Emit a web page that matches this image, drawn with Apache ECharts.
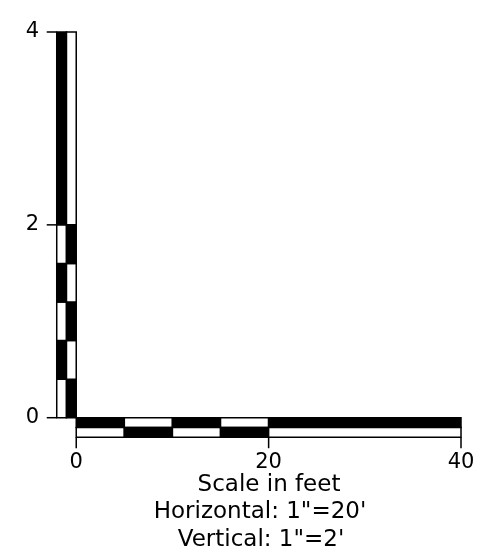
<!DOCTYPE html>
<html><head><meta charset="utf-8">
<script src="https://cdn.jsdelivr.net/npm/echarts@6/dist/echarts.min.js"></script>
<style>html,body{margin:0;padding:0;background:#fff}#c{width:485px;height:553px}</style>
</head><body><div id="c"></div>
<script>
// Vertical scale (feet): segment boundaries and which half is dark
const verticalBreaks = [0, 0.4, 0.8, 1.2, 1.6, 2, 4];
const leftColumnDark = [0, 1, 0, 1, 0, 1];
// Horizontal scale (feet)
const horizontalBreaks = [0, 5, 10, 15, 20, 40];
const topRowDark = [1, 0, 1, 0, 1];
// Tick labels
const xTickValues = [0, 20, 40];
const yTickValues = [0, 2, 4];
const captionLines = ['Scale in feet', 'Horizontal: 1"=20\'', 'Vertical: 1"=2\''];

const segments = [];
for (let i = 0; i < leftColumnDark.length; i++) {
  segments.push([0, verticalBreaks[i], verticalBreaks[i + 1], leftColumnDark[i]]);
}
for (let i = 0; i < topRowDark.length; i++) {
  segments.push([1, horizontalBreaks[i], horizontalBreaks[i + 1], topRowDark[i]]);
}
const tickData = yTickValues.map(v => [0, v]).concat(xTickValues.map(v => [1, v]));

const T = 19.5; // bar thickness in px
const FONT = 'DejaVu Sans';

function renderItem(params, api) {
  const orient = api.value(0), a = api.value(1), b = api.value(2), dark = api.value(3);
  const c1 = dark ? '#000' : '#fff';
  const c2 = dark ? '#fff' : '#000';
  const st = (f) => ({ fill: f, stroke: '#000', lineWidth: 1.5 });
  if (orient === 0) {
    const p0 = api.coord([0, a]), p1 = api.coord([0, b]);
    const x0 = p0[0], h = p0[1] - p1[1];
    return { type: 'group', children: [
      { type: 'rect', shape: { x: x0 - T, y: p1[1], width: T / 2, height: h }, style: st(c1) },
      { type: 'rect', shape: { x: x0 - T / 2, y: p1[1], width: T / 2, height: h }, style: st(c2) }
    ]};
  } else {
    const p0 = api.coord([a, 0]), p1 = api.coord([b, 0]);
    const y0 = p0[1], w = p1[0] - p0[0];
    return { type: 'group', children: [
      { type: 'rect', shape: { x: p0[0], y: y0, width: w, height: T / 2 }, style: st(c1) },
      { type: 'rect', shape: { x: p0[0], y: y0 + T / 2, width: w, height: T / 2 }, style: st(c2) }
    ]};
  }
}

function renderTick(params, api) {
  const orient = api.value(0), v = api.value(1);
  const ls = { stroke: '#000', lineWidth: 1.5 };
  if (orient === 0) {
    const p = api.coord([0, v]);
    const xl = p[0] - T;
    return { type: 'line', shape: { x1: xl - 10, y1: p[1], x2: xl, y2: p[1] }, style: ls };
  } else {
    const p = api.coord([v, 0]);
    const yb = p[1] + T;
    return { type: 'line', shape: { x1: p[0], y1: yb, x2: p[0], y2: yb + 11 }, style: ls };
  }
}

const chart = echarts.init(document.getElementById('c'), null, { renderer: 'canvas' });
chart.setOption({
  backgroundColor: '#fff',
  animation: false,
  grid: { left: 57, right: 24, top: 32, bottom: 116 },
  xAxis: {
    type: 'value', min: -2, max: 40,
    axisLine: { show: false },
    splitLine: { show: false },
    axisTick: { show: false },
    axisLabel: { customValues: xTickValues, margin: 15, color: '#000', fontSize: 21, fontFamily: FONT }
  },
  yAxis: {
    type: 'value', min: -0.2, max: 4,
    axisLine: { show: false },
    splitLine: { show: false },
    axisTick: { show: false },
    axisLabel: { customValues: yTickValues, margin: 18, color: '#000', fontSize: 21, fontFamily: FONT }
  },
  graphic: captionLines.map((t, i) => ({
    type: 'text',
    x: [269, 260, 261][i],
    y: 485 + i * 27.5,
    style: { text: t, fill: '#000', fontSize: 23, fontFamily: FONT, align: 'center', verticalAlign: 'middle' }
  })),
  series: [{
    type: 'custom',
    renderItem: renderItem,
    dimensions: ['orient', 'start', 'end', 'dark'],
    encode: { x: 1, y: 2 },
    data: segments,
    silent: true
  }, {
    type: 'custom',
    renderItem: renderTick,
    dimensions: ['orient', 'value'],
    encode: { x: 1, y: 1 },
    data: tickData,
    silent: true
  }]
});
</script></body></html>
